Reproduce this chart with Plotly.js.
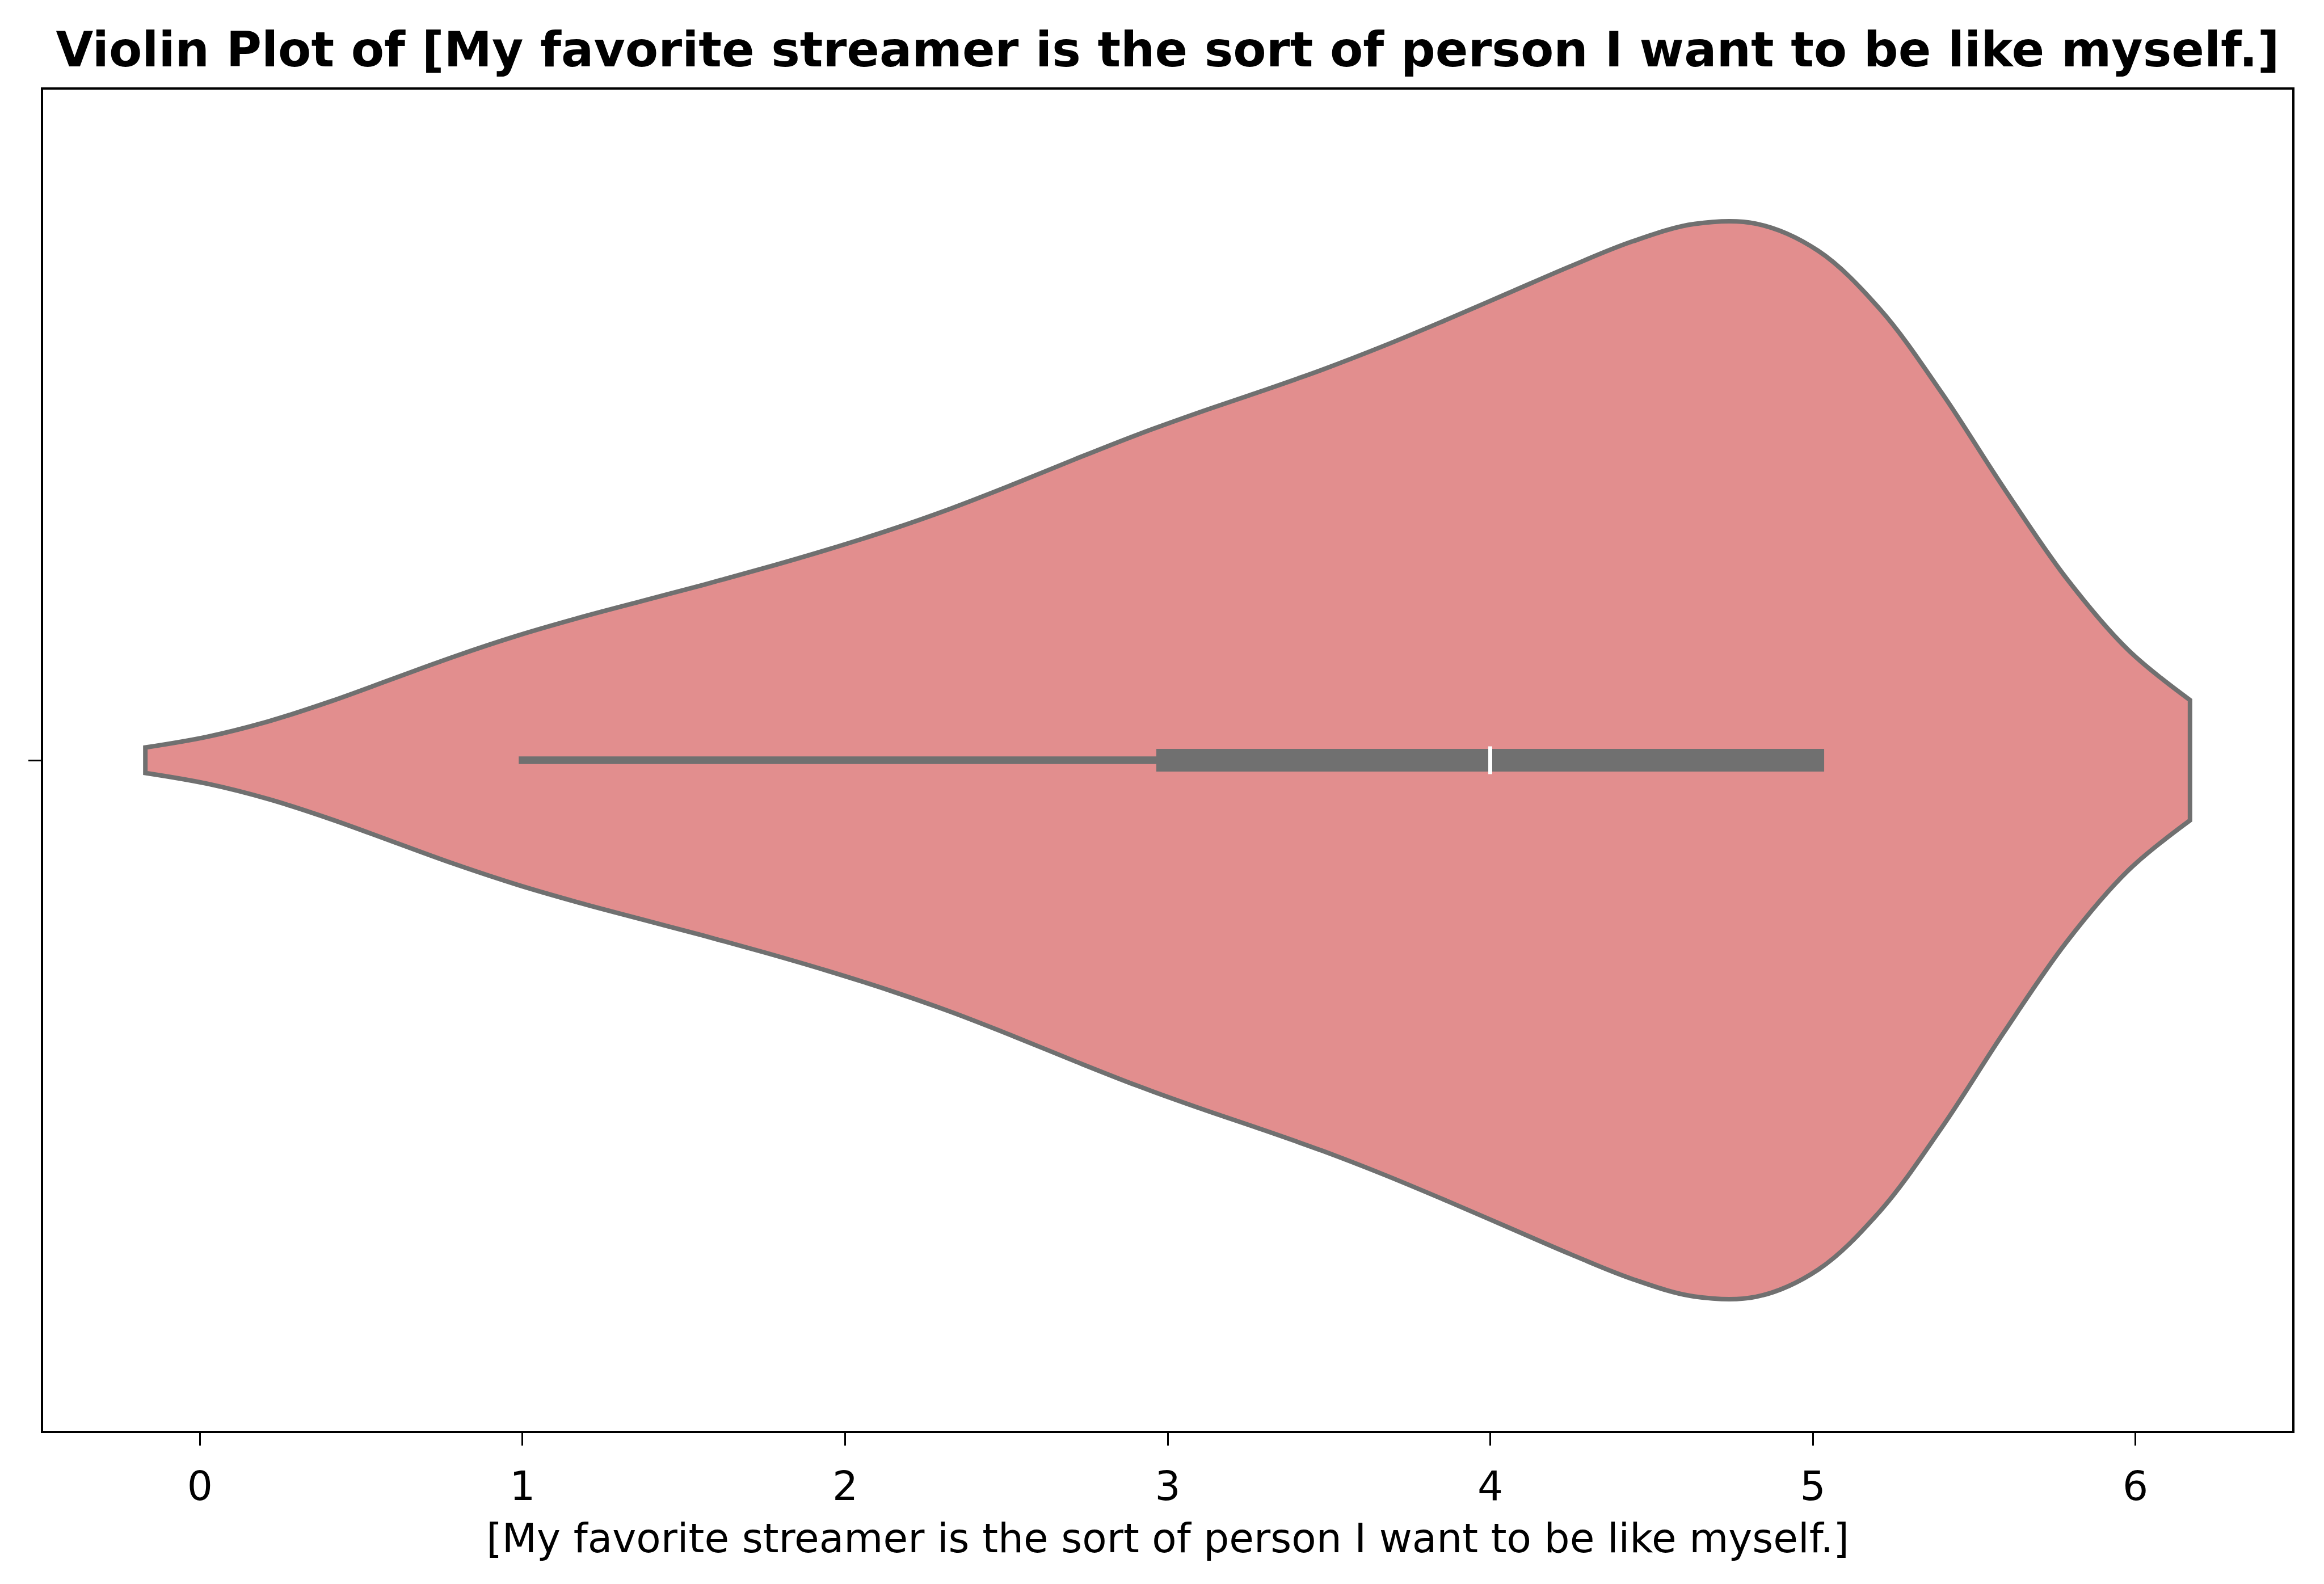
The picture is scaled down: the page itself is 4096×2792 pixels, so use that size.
<!DOCTYPE html>
<html><head><meta charset="utf-8">
<script src="https://cdn.plot.ly/plotly-3.0.1.min.js"></script>
<style>html,body{margin:0;padding:0;background:#fff;} #chart{width:4096px;height:2792px;}</style>
</head><body><div id="chart"></div>
<script>
const titleText = 'Violin Plot of [My favorite streamer is the sort of person I want to be like myself.]';
const axisLabel = '[My favorite streamer is the sort of person I want to be like myself.]';
const levels = [1, 2, 3, 4, 5];
const counts = [4, 6, 10, 13, 19];
const boxQuartiles = [3, 4, 5];   // q1, median, q3
const whiskerRange = [1, 5];      // lower, upper whisker
const xTicks = [0, 1, 2, 3, 4, 5, 6];
const violinPos = 0;

// expand counts into observations
const samples = [];
levels.forEach((v, i) => { for (let k = 0; k < counts[i]; k++) samples.push(v); });
// Scott's rule bandwidth (as the original KDE)
const n = samples.length;
const mean = samples.reduce((a, b) => a + b, 0) / n;
const sd = Math.sqrt(samples.reduce((a, b) => a + (b - mean) ** 2, 0) / (n - 1));
const bw = sd * Math.pow(n, -0.2);
const lo = Math.min(...samples) - 2 * bw, hi = Math.max(...samples) + 2 * bw;
const padX = 0.05 * (hi - lo);

const gray = '#707070';
const data = [
  {type: 'violin', orientation: 'h', x: samples, y0: violinPos, name: '',
   bandwidth: bw, spanmode: 'soft', width: 0.8, scalemode: 'width',
   fillcolor: '#E28E8E', line: {color: gray, width: 8},
   points: false, box: {visible: false}, meanline: {visible: false},
   hoverinfo: 'skip', showlegend: false},
  {type: 'scatter', mode: 'lines', x: whiskerRange, y: [violinPos, violinPos],
   line: {color: gray, width: 13.4}, hoverinfo: 'skip', showlegend: false},
  {type: 'scatter', mode: 'lines', x: [boxQuartiles[0], boxQuartiles[2]], y: [violinPos, violinPos],
   line: {color: gray, width: 40}, hoverinfo: 'skip', showlegend: false},
  {type: 'scatter', mode: 'markers', x: [boxQuartiles[1]], y: [violinPos],
   marker: {symbol: 'line-ns', size: 35, color: 'white', line: {color: 'white', width: 7}},
   hoverinfo: 'skip', showlegend: false}
];

const layout = {
  width: 4096, height: 2792,
  margin: {l: 76, r: 56, t: 158, b: 270, pad: 0},
  paper_bgcolor: 'white', plot_bgcolor: 'white',
  font: {family: 'DejaVu Sans', color: 'black'},
  showlegend: false,
  title: {text: titleText, font: {family: 'DejaVu Sans', size: 85, weight: 'bold', color: 'black'},
          x: 0.5, xref: 'paper', xanchor: 'center', y: 1 - 117 / 2792, yref: 'container', yanchor: 'bottom'},
  xaxis: {range: [lo - padX, hi + padX], tickmode: 'array', tickvals: xTicks,
          ticks: 'outside', ticklen: 22, tickwidth: 3, tickcolor: 'black',
          tickfont: {family: 'DejaVu Sans', size: 71, color: 'black'}, ticklabelstandoff: 10,
          showgrid: false, zeroline: false, showline: true, linecolor: 'black', linewidth: 4.4, mirror: true,
          title: {text: axisLabel, font: {family: 'DejaVu Sans', size: 71, color: 'black'}, standoff: 28},
          automargin: false},
  yaxis: {type: 'linear', range: [-0.5, 0.5], tickmode: 'array', tickvals: [violinPos], showticklabels: false,
          ticks: 'outside', ticklen: 22, tickwidth: 3, tickcolor: 'black',
          showgrid: false, zeroline: false, showline: true, linecolor: 'black', linewidth: 4.4, mirror: true,
          automargin: false}
};

Plotly.newPlot('chart', data, layout, {staticPlot: true}).then(gd => {
  gd.querySelectorAll('.scatterlayer .trace path.js-line').forEach(p => { p.style.strokeLinecap = 'square'; });
});
</script>
</body></html>
